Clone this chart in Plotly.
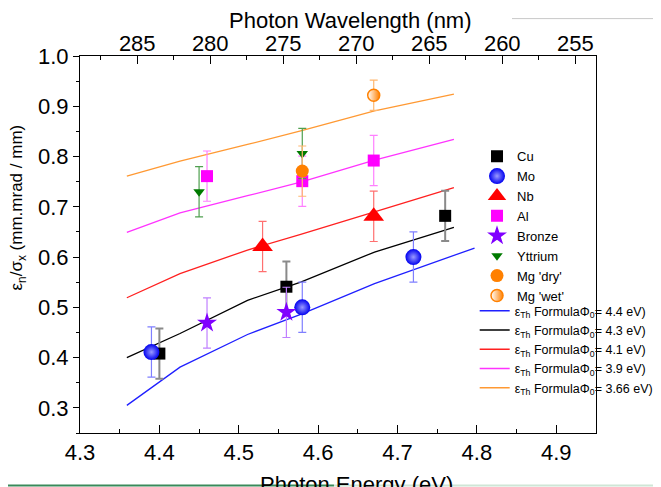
import plotly.graph_objects as go

# ---------------- data ----------------
cu_e = [4.40, 4.56, 4.76]
cu_v = [0.408, 0.541, 0.682]
cu_err = [0.05, 0.05, 0.05]

mo_e = [4.39, 4.58, 4.72]
mo_v = [0.411, 0.500, 0.600]
mo_err = [0.05, 0.05, 0.05]

nb_e = [4.53, 4.67]
nb_v = [0.621, 0.681]
nb_err = [0.05, 0.05]

al_e = [4.46, 4.58, 4.67]
al_v = [0.761, 0.751, 0.792]
al_err = [0.05, 0.05, 0.05]

bronze_e = [4.46, 4.56]
bronze_v = [0.469, 0.490]
bronze_err = [0.05, 0.05]

ytt_e = [4.45, 4.58]
ytt_v = [0.730, 0.806]
ytt_err = [0.05, 0.05]

mgdry_e = [4.58]
mgdry_v = [0.771]
mgdry_err = [0.05]

mgwet_e = [4.67]
mgwet_v = [0.922]
mgwet_err = [0.03]

# formula curves
curve_e = [4.359, 4.426, 4.511, 4.578, 4.671, 4.771]
curve44_e = [4.359, 4.426, 4.511, 4.578, 4.671, 4.797]
phi44_v = [0.305, 0.381, 0.446, 0.486, 0.547, 0.618]
phi43_v = [0.400, 0.448, 0.514, 0.550, 0.610, 0.659]
phi41_v = [0.519, 0.567, 0.614, 0.645, 0.690, 0.738]
phi39_v = [0.649, 0.688, 0.722, 0.749, 0.793, 0.834]
phi366_v = [0.761, 0.791, 0.824, 0.851, 0.891, 0.924]

x_ticks = [4.3, 4.4, 4.5, 4.6, 4.7, 4.8, 4.9]
y_ticks = [0.3, 0.4, 0.5, 0.6, 0.7, 0.8, 0.9, 1.0]
wl_ticks = [285, 280, 275, 270, 265, 260, 255]
wl_range = [288.92, 253.58]

FONT = "Liberation Sans, Arial, sans-serif"

fig = go.Figure()

# helper trace that attaches the top wavelength axis (no visible marks)
fig.add_trace(go.Scatter(x=wl_ticks, y=[None] * len(wl_ticks), xaxis="x2", yaxis="y",
                         mode="markers", showlegend=False, hoverinfo="skip"))

# ---- formula lines (drawn first so markers sit above) ----
lines = [
    (curve44_e, phi44_v, "#1f1fff", "4.4"),
    (curve_e, phi43_v, "#000000", "4.3"),
    (curve_e, phi41_v, "#ff2020", "4.1"),
    (curve_e, phi39_v, "#ff33ff", "3.9"),
    (curve_e, phi366_v, "#ff9933", "3.66"),
]
for xs, ys, col, phi in lines:
    fig.add_trace(go.Scatter(
        x=xs, y=ys, mode="lines", line=dict(color=col, width=1.3),
        name="ε<sub>Th</sub> FormulaΦ<sub>0</sub>= %s eV)" % phi,
        legend="legend2"))

# ---- data markers ----
def add_pts(name, xs, ys, err, sym, size, col, ecol, ethick=1.2, mline=None, grad=None):
    marker = dict(symbol=sym, size=size, color=col, line=mline or dict(width=0))
    if grad:
        marker["gradient"] = grad
    fig.add_trace(go.Scatter(
        x=xs, y=ys, mode="markers", name=name, marker=marker,
        error_y=dict(type="data", array=err, visible=True, color=ecol,
                     thickness=ethick, width=4),
        legend="legend"))

add_pts("Cu", cu_e, cu_v, cu_err, "square", 12, "#000000", "#8a8a8a", ethick=2)
add_pts("Mo", mo_e, mo_v, mo_err, "circle", 16, "#0000f0", "#7f7fff",
        grad=dict(type="radial", color="#9a9aff"))
add_pts("Nb", nb_e, nb_v, nb_err, "triangle-up", 18, "#ff0000", "#ff7070")
add_pts("Al", al_e, al_v, al_err, "square", 12, "#ff00ff", "#ff80ff")
add_pts("Bronze", bronze_e, bronze_v, bronze_err, "star", 15, "#8000ff", "#c080ff")
add_pts("Yttrium", ytt_e, ytt_v, ytt_err, "triangle-down", 10, "#007a00", "#50a050")
add_pts("Mg 'dry'", mgdry_e, mgdry_v, mgdry_err, "circle", 13, "#ff8000", "#ffb870")
add_pts("Mg 'wet'", mgwet_e, mgwet_v, mgwet_err, "circle", 12, "#ffffff", "#ffb870",
        mline=dict(color="#ff8000", width=1.5),
        grad=dict(type="horizontal", color="#ff8000"))

axis_common = dict(showline=True, linecolor="black", linewidth=1, showgrid=False,
                   zeroline=False, tickfont=dict(family=FONT, size=22, color="black"),
                   tickcolor="black", automargin=False)

# the page body adds an 8px margin, so the figure is 8px smaller than the window
fig.update_layout(
    width=653, height=479,
    margin=dict(l=72, r=65, t=48, b=54, autoexpand=False),
    paper_bgcolor="white", plot_bgcolor="white",
    font=dict(family=FONT, color="black"),
    xaxis=dict(range=[4.3, 4.95], tickvals=x_ticks, tickformat=".1f",
               ticks="inside", ticklen=8,
               minor=dict(ticks="inside", ticklen=4, dtick=0.05, tick0=4.3,
                          tickcolor="black"),
               **axis_common),
    xaxis2=dict(overlaying="x", anchor="y", side="top", range=wl_range,
                tickvals=wl_ticks, ticks="inside", ticklen=8, ticklabelstandoff=-5,
                minor=dict(ticks="inside", ticklen=4, dtick=2.5, tick0=255,
                           tickcolor="black"),
                **axis_common),
    yaxis=dict(range=[0.25, 1.0], tickvals=y_ticks, tickformat=".1f",
               ticks="outside", ticklen=6, mirror=True,
               minor=dict(ticks="outside", ticklen=3, dtick=0.05, tick0=0.25,
                          tickcolor="black"),
               **axis_common),
    legend=dict(x=0.7694, y=0.774, xanchor="left", yanchor="top",
                bgcolor="rgba(0,0,0,0)", font=dict(family=FONT, size=13, color="black"),
                tracegroupgap=0),
    legend2=dict(x=0.7649, y=0.363, xanchor="left", yanchor="top",
                 bgcolor="rgba(0,0,0,0)", font=dict(family=FONT, size=12.5, color="black")),
    showlegend=True,
    annotations=[
        dict(text="Photon Wavelength (nm)", xref="paper", yref="paper",
             x=0.5233, y=1.093, xanchor="center", yanchor="middle", showarrow=False,
             font=dict(family=FONT, size=22, color="black")),
        dict(text="Photon Energy (eV)", xref="paper", yref="paper",
             x=0.5349, y=-0.1353, xanchor="center", yanchor="middle", showarrow=False,
             font=dict(family=FONT, size=22, color="black")),
        dict(text="ε<sub>n</sub>/σ<sub>x</sub> (mm.mrad / mm)", xref="paper", yref="paper",
             x=-0.1202, y=0.5981, xanchor="center", yanchor="middle", showarrow=False,
             textangle=-90, font=dict(family=FONT, size=17, color="black")),
    ],
    shapes=[
        dict(type="line", xref="paper", yref="paper", x0=0.8372, x1=1.13, y0=1.0992, y1=1.0992,
             line=dict(color="#c8c8c8", width=1)),
        dict(type="line", xref="paper", yref="paper", x0=-0.16, x1=0.4922, y0=-0.1393, y1=-0.1393,
             line=dict(color="#3a8a5a", width=2)),
        dict(type="line", xref="paper", yref="paper", x0=0.4922, x1=1.13, y0=-0.1393, y1=-0.1393,
             line=dict(color="#cfe6d6", width=2)),
    ],
)

fig.write_html("out.html")
